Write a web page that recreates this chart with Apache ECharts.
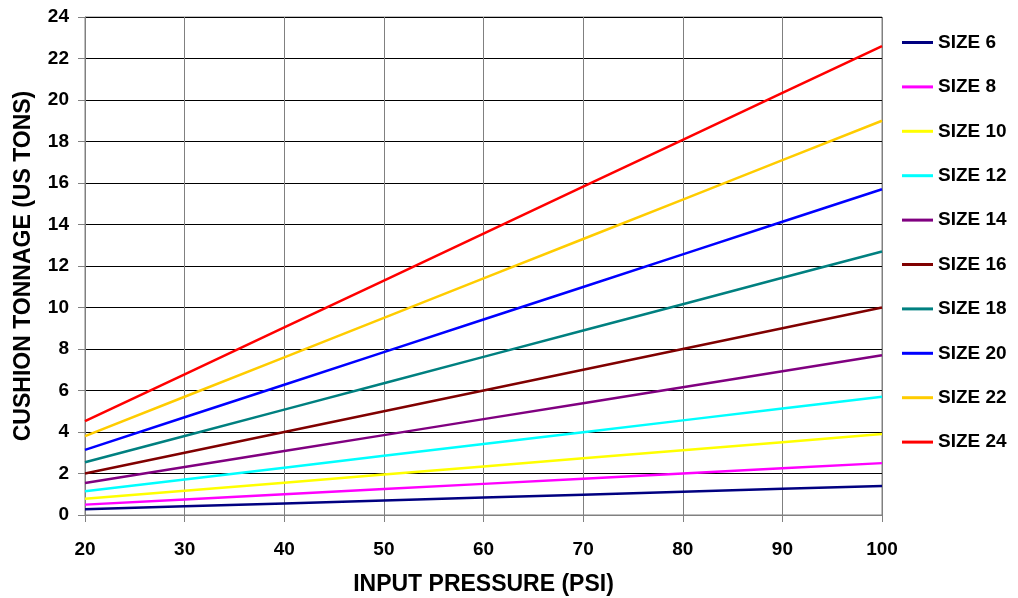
<!DOCTYPE html>
<html>
<head>
<meta charset="utf-8">
<title>Cushion Tonnage</title>
<script src="https://cdn.jsdelivr.net/npm/echarts@6.0.0/dist/echarts.min.js"></script>
<style>
  html, body { margin: 0; padding: 0; background: #fff; }
  #main { width: 1018px; height: 598px; }
</style>
</head>
<body>
<div id="main"></div>
<script>
// input pressure (psi)
const pressure = [20, 30, 40, 50, 60, 70, 80, 90, 100];

const size6  = [0.28, 0.42, 0.56, 0.70, 0.84, 0.98, 1.12, 1.26, 1.40];
const size8  = [0.50, 0.75, 1.00, 1.25, 1.50, 1.75, 2.00, 2.25, 2.50];
const size10 = [0.78, 1.17, 1.56, 1.95, 2.34, 2.73, 3.12, 3.51, 3.90];
const size12 = [1.14, 1.71, 2.28, 2.85, 3.42, 3.99, 4.56, 5.13, 5.70];
const size14 = [1.54, 2.31, 3.08, 3.85, 4.62, 5.39, 6.16, 6.93, 7.70];
const size16 = [2.00, 3.00, 4.00, 5.00, 6.00, 7.00, 8.00, 9.00, 10.00];
const size18 = [2.54, 3.81, 5.08, 6.35, 7.62, 8.89, 10.16, 11.43, 12.70];
const size20 = [3.14, 4.71, 6.28, 7.85, 9.42, 10.99, 12.56, 14.13, 15.70];
const size22 = [3.80, 5.70, 7.60, 9.50, 11.40, 13.30, 15.20, 17.10, 19.00];
const size24 = [4.52, 6.78, 9.04, 11.30, 13.56, 15.82, 18.08, 20.34, 22.60];

const seriesNames = ['SIZE 6', 'SIZE 8', 'SIZE 10', 'SIZE 12', 'SIZE 14',
                     'SIZE 16', 'SIZE 18', 'SIZE 20', 'SIZE 22', 'SIZE 24'];
const seriesValues = [size6, size8, size10, size12, size14, size16, size18, size20, size22, size24];
const colors = ['#000080', '#FF00FF', '#FFFF00', '#00FFFF', '#800080',
                '#800000', '#008080', '#0000FF', '#FFCC00', '#FF0000'];

const font = 'Arial, "Liberation Sans", sans-serif';
const myChart = echarts.init(document.getElementById('main'));

const series = seriesNames.map((name, i) => ({
    name: name,
    type: 'line',
    data: pressure.map((p, j) => [p, seriesValues[i][j]]),
    symbol: 'none',
    lineStyle: { color: colors[i], width: 2.5 },
    itemStyle: { color: colors[i] },
    z: 3
}));

myChart.setOption({
    backgroundColor: '#fff',
    animation: false,
    grid: {
        left: 85, right: 136, top: 17, bottom: 83,
        outerBoundsMode: 'none', containLabel: false,
        show: true, borderColor: '#808080', borderWidth: 1
    },
    legend: {
        orient: 'vertical',
        left: 902,
        top: 33,
        padding: 0,
        itemWidth: 31,
        itemHeight: 3,
        itemGap: 25.4,
        icon: 'rect',
        itemStyle: { borderWidth: 0 },
        textStyle: { fontFamily: font, fontWeight: 'bold', fontSize: 19, color: '#000', padding: [0, 0, 0, 0] },
        data: seriesNames
    },
    xAxis: {
        type: 'value',
        min: 20, max: 100, interval: 10,
        name: 'INPUT PRESSURE (PSI)',
        nameLocation: 'middle',
        nameGap: 58,
        nameTextStyle: { fontFamily: font, fontWeight: 'bold', fontSize: 23, color: '#000' },
        axisLine: { lineStyle: { color: '#808080', width: 1 } },
        axisTick: { show: true, length: 7, lineStyle: { color: '#808080' } },
        axisLabel: { fontFamily: font, fontWeight: 'bold', fontSize: 19, color: '#000', margin: 25 },
        splitLine: { show: true, lineStyle: { color: '#808080', width: 1 } }
    },
    yAxis: {
        type: 'value',
        min: 0, max: 24, interval: 2,
        name: 'CUSHION TONNAGE (US TONS)',
        nameLocation: 'middle',
        nameGap: 50,
        nameTextStyle: { fontFamily: font, fontWeight: 'bold', fontSize: 23, color: '#000' },
        axisLine: { show: true, lineStyle: { color: '#808080', width: 1 } },
        axisTick: { show: true, length: 7, lineStyle: { color: '#808080' } },
        axisLabel: { fontFamily: font, fontWeight: 'bold', fontSize: 19, color: '#000', margin: 16 },
        splitLine: { show: true, lineStyle: { color: '#000', width: 1 } }
    },
    series: series
});
</script>
</body>
</html>
